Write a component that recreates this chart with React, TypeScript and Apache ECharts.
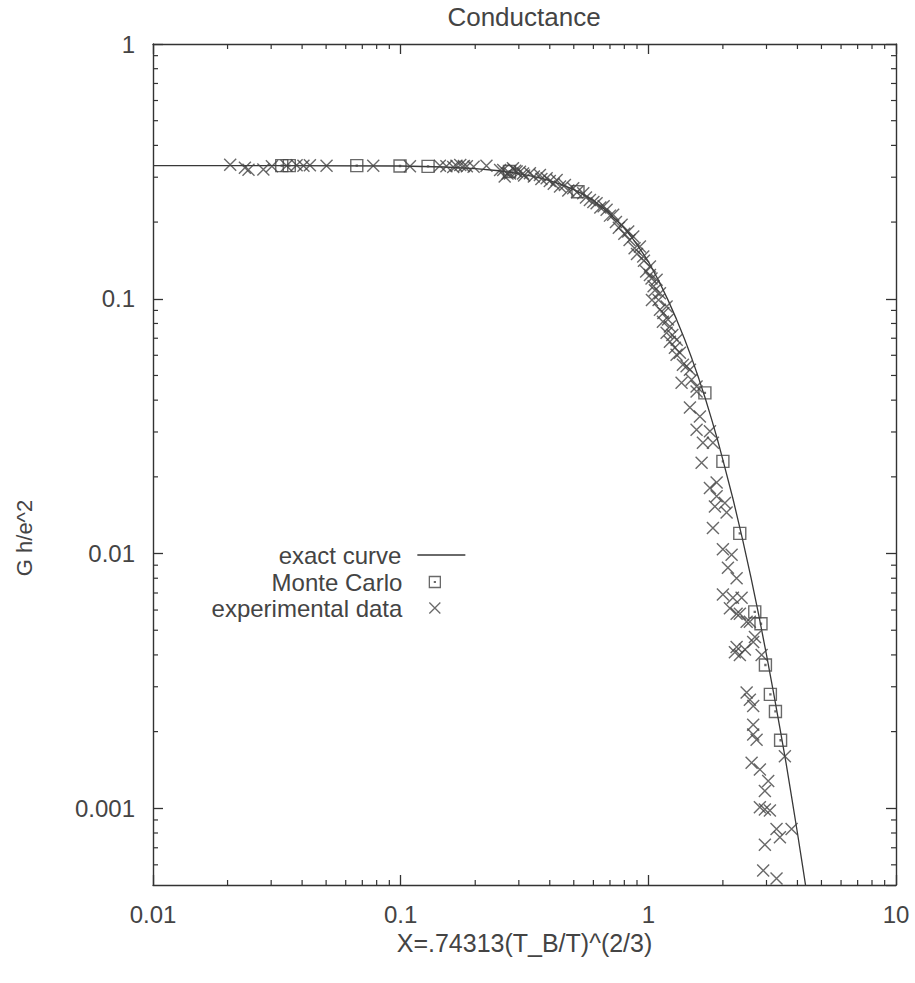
import React, { useEffect, useRef } from 'react';
import * as echarts from 'echarts';

const titleText = 'Conductance';
const xAxisName = 'X=.74313(T_B/T)^(2/3)';
const yAxisName = 'G h/e^2';
const xTickLabels = ['0.01', '0.1', '1', '10'];
const yTickLabels = ['0.001', '0.01', '0.1', '1'];
const xMinorTicks = [0.02, 0.03, 0.04, 0.05, 0.06, 0.07, 0.08, 0.09, 0.2, 0.3, 0.4, 0.5, 0.6, 0.7, 0.8, 0.9, 2, 3, 4, 5, 6, 7, 8, 9];
const yMinorTicks = [0.0006, 0.0007, 0.0008, 0.0009, 0.002, 0.003, 0.004, 0.005, 0.006, 0.007, 0.008, 0.009, 0.02, 0.03, 0.04, 0.05, 0.06, 0.07, 0.08, 0.09, 0.2, 0.3, 0.4, 0.5, 0.6, 0.7, 0.8, 0.9];

const curveX = [0.01, 0.03, 0.1, 0.15, 0.2, 0.25, 0.3, 0.35, 0.4, 0.45, 0.5, 0.55, 0.6, 0.65, 0.7, 0.75, 0.8, 0.85, 0.9, 0.95, 1.0, 1.1, 1.2, 1.3, 1.4, 1.5, 1.6, 1.7, 1.8, 1.9, 2.0, 2.2, 2.4, 2.6, 2.8, 3.0, 3.2, 3.4, 3.6, 3.8, 4.0, 4.2, 4.4];
const curveY = [0.333, 0.333, 0.332, 0.329, 0.324, 0.318, 0.31, 0.301, 0.291, 0.28, 0.268, 0.256, 0.243, 0.229, 0.215, 0.202, 0.189, 0.176, 0.163, 0.151, 0.14, 0.118, 0.099, 0.083, 0.0695, 0.0581, 0.0485, 0.0405, 0.0337, 0.0281, 0.0233, 0.0163, 0.0114, 0.008, 0.00565, 0.004, 0.00286, 0.00206, 0.0015, 0.00109, 0.0008, 0.00059, 0.00044];

const monteCarlo = [
  [0.0331, 0.333], [0.0355, 0.333], [0.0665, 0.333], [0.0994, 0.332], [0.129, 0.331],
  [0.275, 0.316], [0.52, 0.263], [1.692, 0.0427], [2.0, 0.023], [2.34, 0.012],
  [2.69, 0.0059], [2.85, 0.0053], [2.97, 0.00365], [3.11, 0.0028], [3.26, 0.0024], [3.42, 0.00185],
];

const experimental = [
  [0.0205, 0.336], [0.0235, 0.327], [0.0243, 0.321], [0.0279, 0.322], [0.0302, 0.331], [0.0346, 0.333],
  [0.038, 0.334], [0.0405, 0.333], [0.043, 0.334], [0.0502, 0.333], [0.0775, 0.333], [0.109, 0.331],
  [0.144, 0.333], [0.153, 0.331], [0.163, 0.329], [0.168, 0.333], [0.174, 0.335], [0.18, 0.332],
  [0.185, 0.331], [0.197, 0.33], [0.222, 0.333], [0.252, 0.32], [0.263, 0.302], [0.276, 0.31],
  [0.294, 0.316], [0.312, 0.31],
  [0.2595, 0.3205], [0.284, 0.3254], [0.3031, 0.3155], [0.3325, 0.311], [0.3649, 0.3063], [0.3885, 0.2973],
  [0.4264, 0.2928], [0.4604, 0.2799], [0.4973, 0.2717], [0.546, 0.2597], [0.5809, 0.2444], [0.6181, 0.2372],
  [0.6784, 0.2234], [0.7212, 0.2135], [0.78, 0.1951], [0.8293, 0.1836], [0.8689, 0.1754], [0.9247, 0.1603],
  [0.9537, 0.1464], [1.015, 0.1338], [1.08, 0.1187], [1.114, 0.1052], [1.185, 0.0933], [1.222, 0.0778],
  [1.302, 0.069], [1.566, 0.0453],
  [0.27, 0.31], [0.29, 0.318], [0.315, 0.305], [0.345, 0.302], [0.37, 0.295], [0.4, 0.29], [0.415, 0.283],
  [0.44, 0.276], [0.475, 0.266], [0.515, 0.262], [0.56, 0.25], [0.6, 0.24], [0.64, 0.228], [0.66, 0.231],
  [0.7, 0.212], [0.74, 0.2], [0.76, 0.19], [0.8, 0.18], [0.84, 0.17], [0.88, 0.158], [0.9, 0.15],
  [0.96, 0.141], [0.98, 0.128], [1.03, 0.12], [1.05, 0.112], [1.1, 0.099], [1.15, 0.088], [1.2, 0.083], [1.25, 0.072],
  [1.015, 0.124], [1.063, 0.108], [1.034, 0.099], [1.114, 0.0905], [1.145, 0.0812], [1.185, 0.0736],
  [1.222, 0.0678], [1.28, 0.0642], [1.341, 0.0614], [1.427, 0.0543], [1.495, 0.0481],
  [1.3, 0.0603], [1.379, 0.0551], [1.472, 0.0526], [1.362, 0.0468], [1.566, 0.0433], [1.472, 0.0374],
  [1.615, 0.0345], [1.566, 0.0306], [1.773, 0.0302], [1.661, 0.0272], [1.823, 0.0272], [1.641, 0.0227],
  [1.887, 0.019], [1.773, 0.0181], [1.887, 0.0168], [2.038, 0.0158], [1.857, 0.0153], [2.07, 0.0145],
  [1.823, 0.0126], [2.0, 0.0104], [2.169, 0.0099], [2.096, 0.0088], [2.272, 0.008], [2.0, 0.0069],
  [2.195, 0.0067], [2.38, 0.0067], [2.135, 0.0061], [2.272, 0.0058], [2.494, 0.0054], [2.694, 0.0047],
  [2.272, 0.0043],
  [2.342, 0.0058], [2.57, 0.0054], [2.651, 0.0045], [2.236, 0.0041], [2.342, 0.004], [2.455, 0.0042],
  [2.867, 0.004], [2.494, 0.00285], [2.57, 0.00267], [2.651, 0.00252], [2.651, 0.00213], [2.651, 0.00195],
  [2.736, 0.00186], [3.559, 0.0016], [2.612, 0.00151], [2.821, 0.00142], [3.048, 0.00128], [2.955, 0.00117],
  [2.821, 0.00101], [2.955, 0.00099], [3.096, 0.00098], [3.293, 0.00083], [3.788, 0.00083], [2.955, 0.00072],
  [3.398, 0.00077], [2.909, 0.00057], [3.293, 0.00053],
];

const FONT = '"Liberation Sans", Arial, Helvetica, sans-serif';
const TEXT = '#444';
const FRAME = '#333';
const MARK = '#444';
const squarePath = 'path://M0,0H10V10H0Z M4.6,4.6H5.4V5.4H4.6Z';
const crossPath = 'path://M0,0L10,10M10,0L0,10';

function decadeLabel(labels: string[]) {
  return (v: number) => {
    for (const l of labels) {
      if (Math.abs(Math.log10(v) - Math.log10(parseFloat(l))) < 1e-6) return l;
    }
    return '';
  };
}

export default function App() {
  const ref = useRef<HTMLDivElement>(null);
  useEffect(() => {
    if (!ref.current) return;
    const chart = echarts.init(ref.current, undefined, { renderer: 'svg' });
    const axisLine = { show: true, lineStyle: { color: FRAME, width: 1.4 } };
    const axisTick = { show: true, inside: true, length: 10, lineStyle: { color: FRAME, width: 1.3 } };
    const minorTickRender = (horizontal: boolean) => (params: any, api: any) => {
      const cs = params.coordSys;
      const children: any[] = [];
      const style = { stroke: FRAME, lineWidth: 1.2 };
      if (horizontal) {
        const px = api.coord([api.value(0), api.value(1)])[0];
        children.push({ type: 'line', shape: { x1: px, y1: cs.y + cs.height, x2: px, y2: cs.y + cs.height - 5 }, style });
        children.push({ type: 'line', shape: { x1: px, y1: cs.y, x2: px, y2: cs.y + 5 }, style });
      } else {
        const py = api.coord([api.value(0), api.value(1)])[1];
        children.push({ type: 'line', shape: { x1: cs.x, y1: py, x2: cs.x + 5, y2: py }, style });
        children.push({ type: 'line', shape: { x1: cs.x + cs.width, y1: py, x2: cs.x + cs.width - 5, y2: py }, style });
      }
      return { type: 'group', children };
    };
    const legendText = (pad: number) => ({ fontSize: 24, color: TEXT, fontFamily: FONT, padding: [0, pad, 0, 0] });
    chart.setOption({
      animation: false,
      backgroundColor: '#fff',
      grid: { left: 153, top: 44, right: 19, bottom: 98, containLabel: false },
      graphic: [
        { type: 'text', x: 524, y: 17, style: { text: titleText, fontSize: 26, fontFamily: FONT, fill: TEXT, textAlign: 'center', textVerticalAlign: 'middle', align: 'center', verticalAlign: 'middle' } },
        { type: 'text', x: 24, y: 538, rotation: Math.PI / 2, style: { text: yAxisName, fontSize: 22, fontFamily: FONT, fill: TEXT, textAlign: 'center', textVerticalAlign: 'middle', align: 'center', verticalAlign: 'middle' } },
      ],
      legend: [
        { data: ['exact curve'], right: 449, top: 543, align: 'right', orient: 'vertical', padding: 0, itemWidth: 48, itemHeight: 14, selectedMode: false, textStyle: legendText(11), lineStyle: { color: '#383838', width: 1.3 }, itemStyle: { color: 'transparent', borderColor: 'transparent', borderWidth: 0 } },
        { data: [{ name: 'Monte Carlo', icon: squarePath }], right: 474, top: 570, align: 'right', orient: 'vertical', padding: 0, itemWidth: 11, itemHeight: 11, selectedMode: false, textStyle: legendText(22), itemStyle: { color: 'transparent', borderColor: MARK, borderWidth: 1.3 } },
        { data: [{ name: 'experimental data', icon: crossPath }], right: 474, top: 596, align: 'right', orient: 'vertical', padding: 0, itemWidth: 11, itemHeight: 11, selectedMode: false, textStyle: legendText(22), itemStyle: { color: 'transparent', borderColor: MARK, borderWidth: 1.3 } },
      ],
      xAxis: [
        {
          type: 'log', logBase: 10, min: 0.01, max: 10, position: 'bottom',
          axisLine, axisTick, splitLine: { show: false },
          axisLabel: { show: true, fontSize: 24, color: TEXT, fontFamily: FONT, margin: 17, formatter: decadeLabel(xTickLabels) },
          name: xAxisName, nameLocation: 'middle', nameGap: 45,
          nameTextStyle: { fontSize: 25, color: TEXT, fontFamily: FONT },
        },
        {
          type: 'log', logBase: 10, min: 0.01, max: 10, position: 'top',
          axisLine, axisTick, splitLine: { show: false }, axisLabel: { show: false },
        },
      ],
      yAxis: [
        {
          type: 'log', logBase: 10, min: 0.0005, max: 1, position: 'left',
          axisLine, axisTick, splitLine: { show: false },
          axisLabel: { show: true, fontSize: 24, color: TEXT, fontFamily: FONT, margin: 18, showMinLabel: false, formatter: decadeLabel(yTickLabels) },
        },
        {
          type: 'log', logBase: 10, min: 0.0005, max: 1, position: 'right',
          axisLine, axisTick, splitLine: { show: false }, axisLabel: { show: false },
        },
      ],
      series: [
        {
          type: 'custom', name: 'xminor', xAxisIndex: 0, yAxisIndex: 0, silent: true, clip: false,
          data: xMinorTicks.map((v) => [v, 0.5]), renderItem: minorTickRender(true),
        },
        {
          type: 'custom', name: 'yminor', xAxisIndex: 0, yAxisIndex: 0, silent: true, clip: false,
          data: yMinorTicks.map((v) => [1, v]), renderItem: minorTickRender(false),
        },
        {
          type: 'line', name: 'exact curve', xAxisIndex: 0, yAxisIndex: 0, symbol: 'none', silent: true,
          lineStyle: { color: '#383838', width: 1.3 }, itemStyle: { color: '#383838' },
          data: curveX.map((x, i) => [x, curveY[i]]), z: 3,
        },
        {
          type: 'scatter', name: 'Monte Carlo', xAxisIndex: 0, yAxisIndex: 0, symbol: squarePath, symbolSize: 12, silent: true,
          itemStyle: { color: 'transparent', borderColor: MARK, borderWidth: 1.4 },
          data: monteCarlo, z: 4,
        },
        {
          type: 'scatter', name: 'experimental data', xAxisIndex: 0, yAxisIndex: 0, symbol: crossPath, symbolSize: 12, silent: true,
          itemStyle: { color: 'transparent', borderColor: MARK, borderWidth: 1.4 },
          data: experimental, z: 4,
        },
      ],
    });
    return () => chart.dispose();
  }, []);
  return <div ref={ref} style={{ position: 'fixed', left: 0, top: 0, width: 915, height: 983 }} />;
}
